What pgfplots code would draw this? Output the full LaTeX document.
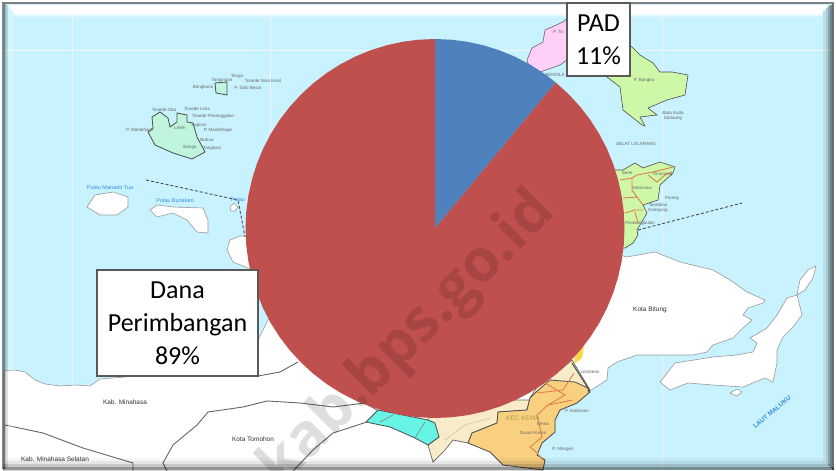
\documentclass[border=0pt]{standalone}
\usepackage{fontspec}
\setmainfont{Carlito}
\newfontfamily\mapf{Liberation Sans}
\newfontfamily\wmf{Open Sans}
\usepackage{pgfplots}
\pgfplotsset{compat=1.18}
\usepgfplotslibrary{polar}
\definecolor{sea}{HTML}{C8F2FE}
\definecolor{mint}{HTML}{BFF5DC}
\definecolor{lgreen}{HTML}{CFF7A8}
\definecolor{pinkl}{HTML}{FFD0F7}
\definecolor{tanl}{HTML}{F7EBC8}
\definecolor{orangel}{HTML}{F9CF80}
\definecolor{cyanl}{HTML}{66F5E4}
\definecolor{pier}{HTML}{C0504D}
\definecolor{pieb}{HTML}{4F81BD}
\definecolor{boxb}{HTML}{595959}
\definecolor{roadc}{HTML}{E0804A}
\definecolor{lablue}{HTML}{3B8FD8}
\tikzset{
 land/.style={fill=white,draw=gray!80,line width=0.6pt},
 isle/.style={fill=#1,draw=black!70,line width=0.8pt},
 bound/.style={draw=black!60,line width=0.9pt},
 road/.style={draw=roadc,line width=0.9pt},
 mt/.style={font=\mapf\fontsize{4.5}{4.5}\selectfont,text=black!60,inner sep=0pt},
 mb/.style={font=\mapf\fontsize{5.5}{5.5}\selectfont,text=lablue,inner sep=0pt},
 big/.style={font=\mapf\fontsize{6.5}{6.5}\selectfont,text=black!80,inner sep=0pt},
}
\begin{document}
\begin{tikzpicture}
\path[use as bounding box,fill=white] (0,0) rectangle (836pt,471pt);
\clip (0,0) rectangle (836pt,471pt);
\begin{axis}[at={(0,0)},anchor=south west,scale only axis,width=836pt,height=471pt,
  xmin=0,xmax=836,ymin=0,ymax=471,y dir=reverse,hide axis,clip=true]
% sea
\addplot[fill=sea,draw=none] coordinates {(3,3)(833,3)(833,470)(3,470)} --cycle;
% faint grid
\addplot[draw=black!5,line width=0.5pt] coordinates {(72,4)(72,470)};
\addplot[draw=black!4,line width=0.5pt] coordinates {(270,4)(270,470)};
\addplot[draw=black!5,line width=0.5pt] coordinates {(662,4)(662,470)};
\addplot[draw=black!3,line width=0.5pt] coordinates {(4,50)(832,50)};
% mainland
\addplot[land] coordinates {(4,371)(15,370)(25,372)(35,380)(45,384)(60,386)(75,385)(90,386)(100,379)(125,377)(258,340)(268,320)(285,300)(400,300)(600,250)(627,257)(655,252)(680,262)(713,270)(730,280)(747,292)(765,300)(763,303)(748,308)(743,315)(752,320)(743,328)(733,338)(713,345)(707,352)(693,355)(637,355)(617,362)(608,368)(607,380)(588,392)(577,403)(560,410)(555,420)(555,432)(542,443)(537,455)(545,460)(542,471)(4,471)} --cycle;
\addplot[land] coordinates {(240,236)(230,240)(227,250)(233,262)(248,268)(300,268)(300,236)} --cycle;
% Lembeh
\addplot[land] coordinates {(660,382)(675,363)(713,357)(737,355)(753,352)(757,343)(750,338)(767,328)(777,315)(787,298)(797,295)(802,315)(793,327)(783,337)(777,350)(777,363)(773,382)(765,378)(743,387)(713,385)(688,383)(670,390)} --cycle;
\addplot[land] coordinates {(797,295)(800,280)(808,270)(816,266)(813,278)(805,290)} --cycle;
\addplot[land] coordinates {(730,393)(737,389)(742,392)(737,396)} --cycle;
% Manado Tua, Bunaken, small island
\addplot[land] coordinates {(87,207)(95,195)(113,192)(128,197)(128,207)(117,215)(100,215)} --cycle;
\addplot[land] coordinates {(150,210)(157,205)(173,207)(203,208)(208,220)(208,233)(197,232)(187,220)(173,213)(157,217)} --cycle;
\addplot[land] coordinates {(230,207)(234,203)(238,207)(235,211)(231,211)} --cycle;
% islands in colour
\addplot[isle=mint] coordinates {(148,132)(153,128)(152,117)(160,112)(168,118)(170,127)(177,122)(177,113)(187,115)(187,122)(193,123)(197,137)(205,152)(192,159)(173,153)(155,145)} --cycle;
\addplot[isle=mint] coordinates {(215,83)(227,82)(227,95)(216,93)} --cycle;
\addplot[fill=pinkl,draw=black!60,line width=0.6pt] coordinates {(527,60)(532,48)(543,42)(545,30)(563,22)(575,12)(580,50)(560,65)(540,72)(530,70)} --cycle;
\addplot[isle=lgreen,line width=0.6pt] coordinates {(607,77)(620,87)(623,110)(642,125)(645,126)(640,117)(657,115)(648,108)(667,100)(685,95)(688,75)(672,72)(660,72)(653,63)(640,55)(630,45)(620,38)(600,60)} --cycle;
\addplot[isle=lgreen,line width=0.6pt] coordinates {(623,170)(635,163)(643,168)(660,162)(675,167)(673,173)(660,185)(658,200)(652,202)(643,205)(647,213)(637,230)(638,235)(633,243)(625,248)(600,250)(600,170)} --cycle;
\addplot[road] coordinates {(620,180)(632,178)(637,175)(653,172)(673,167)};
\addplot[road] coordinates {(632,178)(632,190)(637,197)(643,205)};
\addplot[road] coordinates {(648,175)(657,182)(665,175)(672,172)};
\addplot[road] coordinates {(623,198)(637,197)};
\addplot[road] coordinates {(625,213)(635,210)(643,210)};
\addplot[road] coordinates {(635,212)(638,223)};
% south: tan, orange, cyan
\addplot[fill=tanl,draw=black!60,line width=0.7pt] coordinates {(428,420)(439,437)(428,445)(433,462)(445,450)(453,440)(468,443)(472,433)(497,423)(498,412)(527,410)(530,398)(537,387)(560,370)(572,360)(590,390)(560,400)(500,400)(430,400)} --cycle;
\addplot[fill=yellow!60!orange!70,draw=none] coordinates {(575,352)(585,340)(582,358)(574,364)} --cycle;
\addplot[fill=orangel,draw=black!70,line width=0.8pt] coordinates {(497,423)(498,412)(527,410)(530,398)(535,393)(550,380)(575,382)(588,388)(590,392)(577,403)(560,410)(555,420)(555,432)(542,443)(537,455)(545,460)(543,470)(503,465)(490,452)(468,443)(472,433)} --cycle;
\addplot[fill=cyanl,draw=black!70,line width=0.8pt] coordinates {(366,422)(378,410)(428,420)(435,423)(439,437)(428,445)(415,438)(390,427)} --cycle;
\addplot[draw=black!50,line width=0.6pt] coordinates {(393,415)(380,422)};
\addplot[draw=black!50,line width=0.6pt] coordinates {(425,422)(415,438)};
\addplot[draw=black!70,line width=1pt] coordinates {(572,363)(588,388)(589,393)};
\addplot[road] coordinates {(537,393)(563,390)(574,373)};
\addplot[road] coordinates {(548,405)(573,400)};
\addplot[road] coordinates {(540,380)(565,395)(548,405)(537,415)(542,437)(530,447)(537,453)(543,460)};
\addplot[draw=black!25,line width=0.5pt] coordinates {(445,440)(465,425)(490,418)};
% boundaries
\addplot[bound] coordinates {(377,410)(365,403)(333,407)(300,403)(267,401)(243,407)(208,412)(197,425)(173,445)(163,463)(167,471)};
\addplot[bound] coordinates {(367,422)(333,433)(313,450)(293,471)};
\addplot[bound] coordinates {(5,425)(43,433)(83,448)(133,463)(133,471)};
\addplot[bound] coordinates {(258,376)(280,372)(298,362)};
% dashed sea borders
\addplot[draw=black!70,line width=0.9pt,densely dashed] coordinates {(146,180)(238,200)(245,237)};
\addplot[draw=black!70,line width=0.9pt,densely dashed] coordinates {(638,230)(742,203)};
% map texts
\node[mt] at (axis cs:237,76) {Tenga};
\node[mt] at (axis cs:222,80) {Tanjungan};
\node[mt] at (axis cs:263,81) {Tosede Nain Kecil};
\node[mt] at (axis cs:203,87) {Bongkuna};
\node[mt] at (axis cs:248,88) {P. Talio Besar};
\node[mt] at (axis cs:164,110) {Tosede Oba};
\node[mt] at (axis cs:197,109) {Tosede Lima};
\node[mt] at (axis cs:213,116) {Tosede Penanggalan};
\node[mt] at (axis cs:199,125) {Sapiros};
\node[mt] at (axis cs:218,130) {P. Manitehage};
\node[mt] at (axis cs:140,130) {P. Mantehage};
\node[mt] at (axis cs:180,128) {Leleh};
\node[mt] at (axis cs:207,140) {Bahoa};
\node[mt] at (axis cs:190,147) {Bango};
\node[mt] at (axis cs:212,148) {Tangkasi};
\node[mb] at (axis cs:110,188) {Pulau Manado Tua};
\node[mb] at (axis cs:175,201) {Pulau Bunaken};
\node[mb] at (axis cs:238,200) {Pulau};
\node[mt] at (axis cs:644,80) {P. Bangka};
\node[mt] at (axis cs:673,113) {Batu Kuda};
\node[mt] at (axis cs:673,118) {Sahaung};
\node[mt] at (axis cs:636,144) {SELAT LOLARANG};
\node[mt] at (axis cs:555,75) {BENDILA};
\node[mt] at (axis cs:558,32) {P. Ta};
\node[mt] at (axis cs:627,173) {Serei};
\node[mt] at (axis cs:663,174) {Kinunang};
\node[mt] at (axis cs:642,188) {Marinsow};
\node[mt] at (axis cs:672,198) {Pontoy};
\node[mt] at (axis cs:658,205) {Tarabitan};
\node[mt] at (axis cs:658,210) {Kampung};
\node[mt] at (axis cs:640,223) {Pinasungkulan};
\node[big] at (axis cs:650,310) {Kota Bitung};
\node[font=\mapf\fontsize{6.5}{6.5}\selectfont,text=yellow!60!black,inner sep=0pt] at (axis cs:523,418) {KEC  KEMA};
\node[big] at (axis cs:125,402) {Kab. Minahasa};
\node[big] at (axis cs:253,439) {Kota Tomohon};
\node[big] at (axis cs:55,459) {Kab. Minahasa Selatan};
\node[font=\mapf\bfseries\fontsize{6.5}{6.5}\selectfont,text=lablue,inner sep=0pt,rotate=40] at (axis cs:772,412) {LAUT MALUKU};
\node[mt] at (axis cs:577,411) {P. Kaloosan};
\node[mt] at (axis cs:563,449) {P. Mangeri};
\node[mt] at (axis cs:543,424) {Kema};
\node[mt] at (axis cs:533,433) {Dusun Kema};
\node[mt] at (axis cs:590,372) {Lembean};
\end{axis}
% bevelled frame of the picture
\begin{scope}[x=1pt,y=-1pt,shift={(0pt,471pt)}]
\fill[white] (8,5) -- (828,5) -- (822,14) -- (14,14) -- cycle;
\fill[white,opacity=.55] (14,14) rectangle (822,16);
\fill[white,opacity=.25] (16,16) rectangle (820,18);
\fill[gray] (2,2) rectangle (834,4.5);
\fill[black,opacity=.45] (2,4) rectangle (4.5,469);
\fill[black,opacity=.25] (4.5,4) rectangle (6,469);
\fill[black,opacity=.12] (6,5) rectangle (8,468);
\fill[white,opacity=.25] (8,7) -- (14,14) -- (14,458) -- (8,466) -- cycle;
\fill[black,opacity=.08] (823,10) rectangle (826,462);
\fill[black,opacity=.16] (826,8) rectangle (828,464);
\fill[black,opacity=.3] (828,6) rectangle (830,466);
\fill[black,opacity=.45] (830,5) rectangle (832,468);
\fill[black,opacity=.55] (832,4) rectangle (834,470);
\fill[black,opacity=.04] (8,458) rectangle (823,461);
\fill[black,opacity=.1] (6,461) rectangle (826,464);
\fill[black,opacity=.22] (4,464) rectangle (830,467);
\fill[black,opacity=.42] (3,467) rectangle (834,470);
\end{scope}
% the pie: angle in degrees, radius
\begin{polaraxis}[at={(435pt,242.5pt)},anchor=center,scale only axis,width=379pt,height=379pt,
  xmin=0,xmax=360,ymin=0,ymax=1,hide axis,clip=false]
\addplot[fill=pieb,draw=none,mark=none] coordinates {(0,0)(90,1)(85,1)(80,1)(75,1)(70,1)(65,1)(60,1)(55,1)(50.4,1)} --cycle;
\addplot[fill=pier,draw=none,mark=none] coordinates {(0,0)(50.4,1)(45,1)(40,1)(35,1)(30,1)(25,1)(20,1)(15,1)(10,1)(5,1)(0,1)
 (355,1)(350,1)(345,1)(340,1)(335,1)(330,1)(325,1)(320,1)(315,1)(310,1)(305,1)(300,1)(295,1)(290,1)(285,1)(280,1)(275,1)(270,1)
 (265,1)(260,1)(255,1)(250,1)(245,1)(240,1)(235,1)(230,1)(225,1)(220,1)(215,1)(210,1)(205,1)(200,1)(195,1)(190,1)(185,1)(180,1)
 (175,1)(170,1)(165,1)(160,1)(155,1)(150,1)(145,1)(140,1)(135,1)(130,1)(125,1)(120,1)(115,1)(110,1)(105,1)(100,1)(95,1)(90,1)} --cycle;
\end{polaraxis}
\begin{scope}[x=1pt,y=-1pt,shift={(0pt,471pt)}]
\node[font=\wmf\bfseries\fontsize{59}{59}\selectfont,text=black,opacity=.13,rotate=45,anchor=base east,inner sep=0pt] at (557,213) {kab.bps.go.id};
\node[draw=boxb,line width=1.5pt,fill=white,minimum width=63pt,minimum height=73pt,inner sep=0pt,align=center,
  font=\fontsize{26}{33}\selectfont] at (598.5,39.5) {PAD\\11\%};
\node[draw=boxb,line width=1.5pt,fill=white,minimum width=161pt,minimum height=106pt,inner sep=0pt,align=center,
  font=\fontsize{26}{33}\selectfont] at (177.5,323) {Dana\\Perimbangan\\89\%};
\end{scope}
\end{tikzpicture}
\end{document}
